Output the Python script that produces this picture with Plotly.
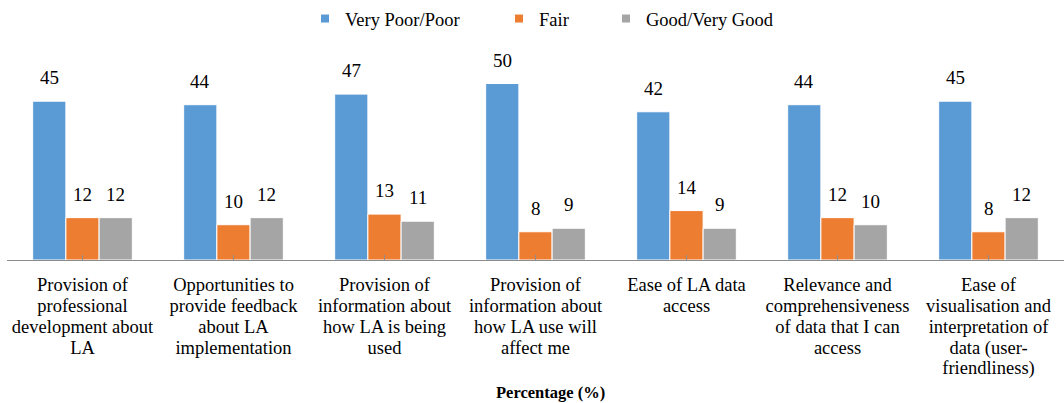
import plotly.graph_objects as go

categories = [
    "Provision of<br>professional<br>development about<br>LA",
    "Opportunities to<br>provide feedback<br>about LA<br>implementation",
    "Provision of<br>information about<br>how LA is being<br>used",
    "Provision of<br>information about<br>how LA use will<br>affect me",
    "Ease of LA data<br>access",
    "Relevance and<br>comprehensiveness<br>of data that I can<br>access",
    "Ease of<br>visualisation and<br>interpretation of<br>data (user-<br>friendliness)",
]
series_names = ["Very Poor/Poor", "Fair", "Good/Very Good"]
very_poor_poor = [45, 44, 47, 50, 42, 44, 45]
fair = [12, 10, 13, 8, 14, 12, 8]
good_very_good = [12, 12, 11, 9, 9, 10, 12]
axis_title = "Percentage (%)"

colors = ["#5B9BD5", "#ED7D31", "#A5A5A5"]
series_values = [very_poor_poor, fair, good_very_good]
FONT = "Liberation Serif"
TXT = 18.5

W, H = 1064, 403
ML, MR, MT, MB = 7, 0, 50, 143
plot_w = W - ML - MR
plot_h = H - MT - MB
ymax = 59.5

fig = go.Figure()
xs = list(range(len(categories)))
for name, vals, col in zip(series_names, series_values, colors):
    fig.add_trace(go.Bar(
        x=xs, y=vals, name=name, showlegend=False,
        marker=dict(color=col, line=dict(color="white", width=1)),
        hoverinfo="skip",
    ))

# legends (one per series, to place them like the reference)
legend_x_px = [305, 499, 606]
for i, (name, col) in enumerate(zip(series_names, colors)):
    lg = "legend" if i == 0 else f"legend{i+1}"
    fig.add_trace(go.Scatter(
        x=[None], y=[None], mode="markers", name=name, legend=lg,
        marker=dict(symbol="square", size=8, color=col),
    ))

legend_common = dict(orientation="h", yanchor="middle", xanchor="left",
                     font=dict(family=FONT, size=TXT, color="black"),
                     bgcolor="rgba(0,0,0,0)", itemwidth=30)

def py(px):
    return (H - MB - px) / plot_h

def pxx(px):
    return (px - ML) / plot_w

layout_legends = {}
for i in range(3):
    key = "legend" if i == 0 else f"legend{i+1}"
    layout_legends[key] = dict(legend_common, x=pxx(legend_x_px[i]), y=py(19))

# tick text: larger glyphs with tighter (16px-based) line spacing
ticktext = ["<br>".join(f"<span style='font-size:{TXT}px'>{ln}</span>" for ln in c.split("<br>"))
            for c in categories]

# value labels
bargap = 0.34
bar_w_units = (1 - bargap) / 3
annotations = []
for s, vals in enumerate(series_values):
    off = (s - 1) * bar_w_units
    for i, v in enumerate(vals):
        annotations.append(dict(
            x=i + off, y=v, xref="x", yref="y", text=str(v), showarrow=False,
            yanchor="bottom", yshift=11,
            font=dict(family=FONT, size=19, color="black"),
        ))
annotations.append(dict(
    x=pxx(550), y=py(392), xref="paper", yref="paper", text="<b>" + axis_title + "</b>",
    showarrow=False, font=dict(family=FONT, size=16.5, color="black"),
    xanchor="center", yanchor="middle",
))

fig.update_layout(
    width=W, height=H,
    margin=dict(l=ML, r=MR, t=MT, b=MB, pad=0),
    barmode="group", bargap=bargap, bargroupgap=0,
    plot_bgcolor="white", paper_bgcolor="white",
    font=dict(family=FONT, size=16, color="black"),
    annotations=annotations,
    **layout_legends,
)
fig.update_xaxes(
    tickmode="array", tickvals=xs, ticktext=ticktext,
    range=[-0.5, 6.5],
    showline=True, linecolor="#8C8C8C", linewidth=1,
    ticks="inside", tickson="boundaries", ticklen=5, tickcolor="#8C8C8C",
    showgrid=False, zeroline=False,
    tickfont=dict(family=FONT, size=16, color="black"),
    ticklabelstandoff=11,
)
fig.update_yaxes(range=[0, ymax], visible=False, showgrid=False, zeroline=False)

fig.write_html("out.html", config={"displayModeBar": False},
               post_script="document.body.style.margin='0';document.body.style.padding='0';")
